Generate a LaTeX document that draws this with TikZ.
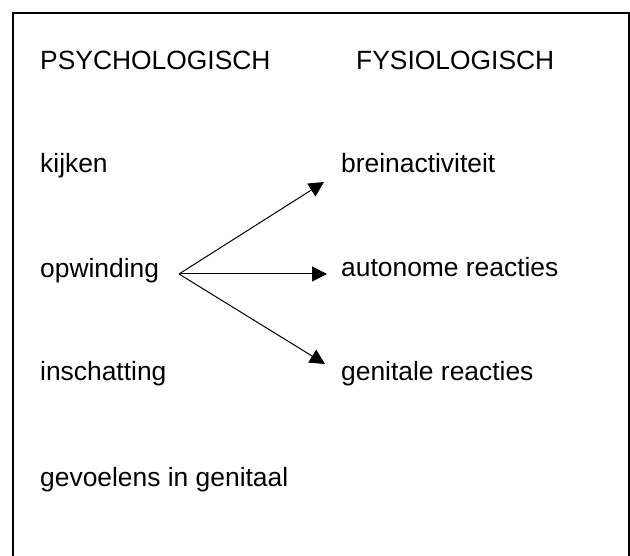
\documentclass[tikz,border=0pt]{standalone}
\usepackage{fontspec}
\setmainfont{Liberation Sans}
\usetikzlibrary{arrows.meta}
\begin{document}
\begin{tikzpicture}[x=1pt,y=-1pt,
  lbl/.style={anchor=base west,inner sep=0pt,font=\fontsize{26.4}{30}\selectfont},
  conn/.style={line width=1pt,-{Triangle[length=15pt,width=15pt]}}]
\useasboundingbox (0,0) rectangle (630,556);
\clip (0,0) rectangle (630,556);
\fill[white] (0,0) rectangle (630,556);
\draw[line width=2.4pt] (13,600) -- (13,13) -- (629.5,13) -- (629.5,600);
\node[lbl] (psy) at (40,70) {PSYCHOLOGISCH};
\node[lbl] (fys) at (356,70) {FYSIOLOGISCH};
\node[lbl] (kij) at (40,173) {kijken};
\node[lbl] (opw) at (40,278) {opwinding};
\node[lbl] (ins) at (40,381) {inschatting};
\node[lbl] (gev) at (40,486) {gevoelens in genitaal};
\node[lbl] (bre) at (341,173) {breinactiviteit};
\node[lbl] (aut) at (341,277) {autonome reacties};
\node[lbl] (gen) at (341,381) {genitale reacties};
\coordinate (o) at (179,274);
\coordinate (t1) at (324,182);
\coordinate (t2) at (327,274);
\coordinate (t3) at (325,364);
\draw[conn] (o) -- (t1);
\draw[conn] (o) -- (t2);
\draw[conn] (o) -- (t3);
\end{tikzpicture}
\end{document}
